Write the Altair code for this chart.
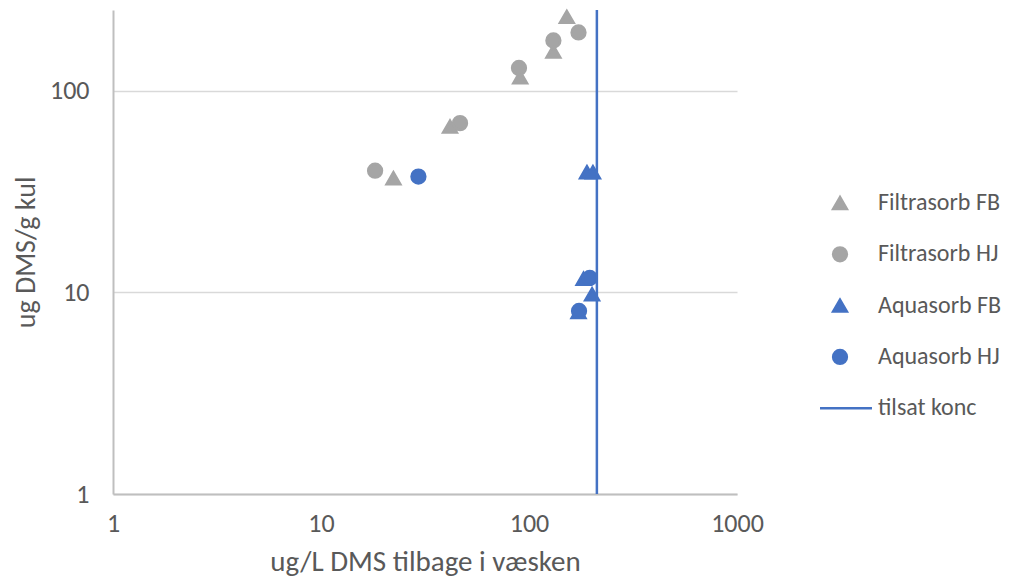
import altair as alt
import pandas as pd

# Series data
ff_x = [22.3, 41.7, 90.7, 131, 152]
ff_y = [36.9, 66.6, 117, 157, 233]
fh_x = [18.2, 46.6, 89.5, 131, 173]
fh_y = [40.2, 69.2, 130, 178, 195]
af_x = [190, 203, 183, 201, 173]
af_y = [39.5, 39.5, 11.7, 9.8, 8.0]
ah_x = [29.4, 196, 174]
ah_y = [37.6, 11.8, 8.1]
tilsat_konc = 212

series_names = ["Filtrasorb FB", "Filtrasorb HJ", "Aquasorb FB", "Aquasorb HJ", "tilsat konc"]
series_colors = ["#a5a5a5", "#a5a5a5", "#4472c4", "#4472c4", "#4472c4"]
series_shapes = ["triangle-up", "circle", "triangle-up", "circle", "M-2.9,0H4.64"]

rows = []
for name, xs, ys in [("Filtrasorb FB", ff_x, ff_y), ("Filtrasorb HJ", fh_x, fh_y),
                     ("Aquasorb FB", af_x, af_y), ("Aquasorb HJ", ah_x, ah_y)]:
    for a, b in zip(xs, ys):
        rows.append({"x": a, "y": b, "serie": name})
points_df = pd.DataFrame(rows)
rule_df = pd.DataFrame({"x": [tilsat_konc], "serie": ["tilsat konc"]})

FONT = "Carlito, Lato"
TXT = "#595959"

color_scale = alt.Scale(domain=series_names, range=series_colors)
shape_scale = alt.Scale(domain=series_names, range=series_shapes)

legend = alt.Legend(
    title=None, orient="none", legendX=715, legendY=181,
    labelFontSize=24, labelColor=TXT, labelFont=FONT,
    rowPadding=27.3, symbolStrokeWidth=2.5, labelOffset=26, symbolSize=190,
)

x_scale = alt.Scale(type="log", domain=[1, 1000], nice=False)
y_scale = alt.Scale(type="log", domain=[1, 252], nice=False)

x_axis = alt.Axis(
    title="ug/L DMS tilbage i væsken", values=[1, 10, 100, 1000],
    labelExpr="datum.value", grid=False, ticks=False, labelPadding=16,
    labelFlush=False, titlePadding=11,
)
y_axis = alt.Axis(
    title="ug DMS/g kul", values=[1, 10, 100], labelExpr="datum.value",
    grid=True, ticks=False, labelPadding=24, titlePadding=9, labelFlush=False,
    titleFontSize=28,
)

pts = alt.Chart(points_df).mark_point(filled=True, strokeWidth=2.5, opacity=1, size=190).encode(
    x=alt.X("x:Q", scale=x_scale, axis=x_axis),
    y=alt.Y("y:Q", scale=y_scale, axis=y_axis),
    color=alt.Color("serie:N", scale=color_scale, legend=legend, sort=series_names),
    stroke=alt.Stroke("serie:N", scale=color_scale, legend=legend, sort=series_names),
    shape=alt.Shape("serie:N", scale=shape_scale, legend=legend, sort=series_names),
)

rule = alt.Chart(rule_df).mark_rule(strokeWidth=2.5).encode(
    x=alt.X("x:Q", scale=x_scale),
    color=alt.Color("serie:N", scale=color_scale, legend=legend, sort=series_names),
)

chart = alt.layer(pts, rule).properties(
    width=624, height=484,
    autosize=alt.AutoSizeParams(type="none"),
    padding={"left": 105, "top": 2, "right": 270, "bottom": 84},
).configure_view(stroke=None).configure_axis(
    domainColor="#bfbfbf", domainWidth=2, gridColor="#d9d9d9", gridWidth=1.5,
    labelFont=FONT, labelFontSize=26, labelColor=TXT,
    titleFont=FONT, titleFontSize=29, titleColor=TXT, titleFontWeight="normal",
)

chart.save("out.html", embed_options={"renderer": "svg", "actions": False})
